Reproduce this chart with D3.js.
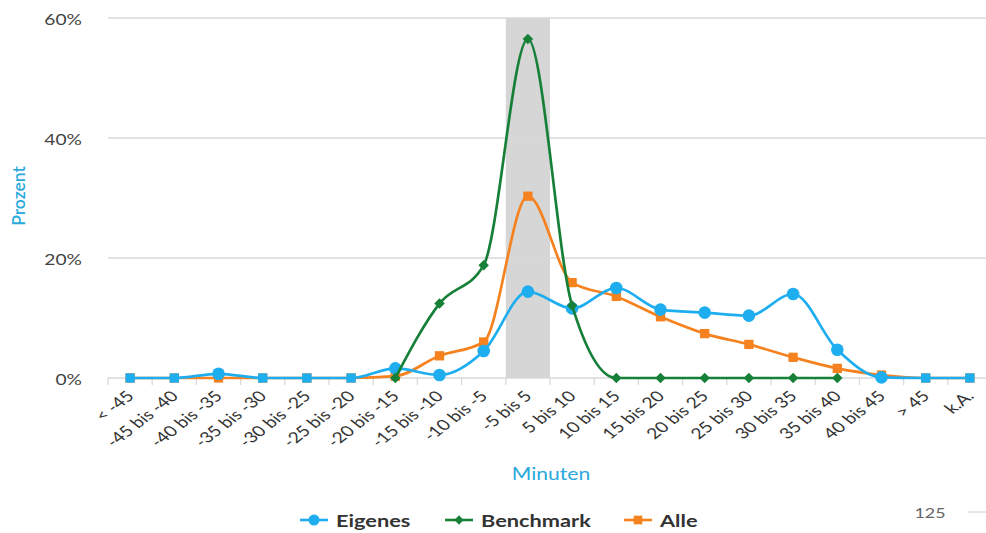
<!DOCTYPE html>
<html>
<head>
<meta charset="utf-8">
<script src="https://cdn.jsdelivr.net/npm/d3@7"></script>
<style>
  html, body { margin: 0; padding: 0; background: #fff; }
  svg { display: block; font-family: Lato, "Open Sans", sans-serif; }
</style>
</head>
<body>
<svg id="chart" width="986" height="533"></svg>
<script>
// Abweichung in Minuten (Kategorien der x-Achse)
const categories = ["< -45", "-45 bis -40", "-40 bis -35", "-35 bis -30", "-30 bis -25",
  "-25 bis -20", "-20 bis -15", "-15 bis -10", "-10 bis -5", "-5 bis 5", "5 bis 10",
  "10 bis 15", "15 bis 20", "20 bis 25", "25 bis 30", "30 bis 35", "35 bis 40",
  "40 bis 45", "> 45", "k.A."];

// Anteile in Prozent
const eigenes   = [0, 0, 0.7, 0, 0, 0, 1.6, 0.5, 4.5, 14.4, 11.6, 15.0, 11.4, 10.9, 10.4, 14.0, 4.7, 0.1, 0, 0];
const benchmark = [null, null, null, null, null, null, 0, 12.4, 18.8, 56.5, 12.1, 0, 0, 0, 0, 0, 0, null, null, null];
const alle      = [0, 0, 0, 0, 0, 0, 0.3, 3.7, 6.0, 30.3, 15.9, 13.6, 10.2, 7.4, 5.6, 3.45, 1.6, 0.5, 0, 0];

const yTicks = [0, 20, 40, 60];
const highlightCategory = "-5 bis 5";
const pageNumber = "125";

// Schrift wird in der Breite gestreckt dargestellt
const SX = 1.28;

const svg = d3.select("#chart");
const x = d3.scaleBand().domain(categories).range([108, 992]);
const y = d3.scaleLinear().domain([0, 60]).range([378, 18]);
const cx = c => x(c) + x.bandwidth() / 2;

const COL_BLUE = "#1eaef0";
const COL_GREEN = "#178038";
const COL_ORANGE = "#f5821f";
const COL_TITLE = "#2aa9dc";

function label(g, px, py, txt, opts) {
  const o = Object.assign({ size: 15, fill: "#444", anchor: "start", weight: "normal", rotate: 0 }, opts);
  return g.append("text")
    .attr("transform", `translate(${px},${py}) scale(${SX},1)` + (o.rotate ? ` rotate(${o.rotate})` : ""))
    .attr("text-anchor", o.anchor)
    .attr("font-size", o.size).attr("font-weight", o.weight).attr("fill", o.fill)
    .text(txt);
}

// hervorgehobener Bereich
svg.append("rect")
  .attr("x", x(highlightCategory)).attr("y", y(60))
  .attr("width", x.bandwidth()).attr("height", y(0) - y(60))
  .attr("fill", "#d6d6d6");

// Gitterlinien und y-Achse
svg.append("g").selectAll("line").data(yTicks).join("line")
  .attr("x1", 108).attr("x2", 992)
  .attr("y1", d => y(d)).attr("y2", d => y(d))
  .attr("stroke", "#d9d9d9").attr("stroke-width", 1.3);
const gyl = svg.append("g");
yTicks.forEach(t => label(gyl, 82, y(t) + 6.8, t + "%", { anchor: "end", size: 15 }));

// x-Achse mit Teilstrichen an den Kategoriegrenzen
const bounds = categories.map(c => x(c)).concat([x.range()[1]]);
svg.append("g").selectAll("line").data(bounds).join("line")
  .attr("x1", d => d).attr("x2", d => d)
  .attr("y1", y(0)).attr("y2", y(0) + 7)
  .attr("stroke", "#d9d9d9").attr("stroke-width", 1.3);

const gxl = svg.append("g");
categories.forEach(c => label(gxl, cx(c) + 5, y(0) + 19, c, { anchor: "end", size: 15, fill: "#333", rotate: -45 }));

// Achsentitel
label(svg, 551, 480, "Minuten", { anchor: "middle", size: 16.5, fill: COL_TITLE });
svg.append("text").attr("transform", "translate(25,196) rotate(-90)")
  .attr("text-anchor", "middle").attr("font-size", 17.5).attr("font-weight", 600)
  .attr("fill", COL_TITLE).text("Prozent");

// Linien (geglättet, ohne Überschwingen unter 0 %)
const line = d3.line()
  .defined(d => d.v !== null)
  .x(d => cx(d.c)).y(d => y(d.v))
  .curve(d3.curveMonotoneX);
const pts = vals => categories.map((c, i) => ({ c, v: vals[i] }));

const diamond = d3.symbol().type(d3.symbolDiamond2).size(70);
const square = d3.symbol().type(d3.symbolSquare2).size(110);

function drawSeries(vals, color, markerFn) {
  const g = svg.append("g");
  g.append("path").datum(pts(vals)).attr("d", line)
    .attr("fill", "none").attr("stroke", color).attr("stroke-width", 2.7);
  const m = g.selectAll("g").data(pts(vals).filter(d => d.v !== null)).join("g")
    .attr("transform", d => `translate(${cx(d.c)},${y(d.v)})`);
  markerFn(m, color);
}

drawSeries(alle, COL_ORANGE, (m, col) => m.append("path").attr("d", square()).attr("fill", col));
drawSeries(eigenes, COL_BLUE, (m, col) => m.each(function (d) {
  const s = d3.select(this);
  if (d.v === 0) s.append("path").attr("d", square()).attr("fill", col);
  else s.append("circle").attr("r", 6.3).attr("fill", col);
}));
drawSeries(benchmark, COL_GREEN, (m, col) => m.append("path").attr("d", diamond()).attr("fill", col));

// Legende
const legend = [
  { name: "Eigenes", color: COL_BLUE, x: 300, marker: "circle" },
  { name: "Benchmark", color: COL_GREEN, x: 445, marker: "diamond" },
  { name: "Alle", color: COL_ORANGE, x: 624, marker: "square" }
];
const lg = svg.append("g").selectAll("g").data(legend).join("g")
  .attr("transform", d => `translate(${d.x},520)`);
lg.append("line").attr("x1", 0).attr("x2", 28).attr("stroke", d => d.color).attr("stroke-width", 2.6);
lg.each(function (d) {
  const g = d3.select(this);
  if (d.marker === "circle") g.append("circle").attr("cx", 14).attr("r", 5.5).attr("fill", d.color);
  else if (d.marker === "diamond") g.append("path").attr("transform", "translate(14,0)").attr("d", d3.symbol().type(d3.symbolDiamond2).size(55)()).attr("fill", d.color);
  else g.append("path").attr("transform", "translate(14,0)").attr("d", d3.symbol().type(d3.symbolSquare2).size(95)()).attr("fill", d.color);
  label(g, 36, 6.5, d.name, { size: 17, weight: "bold", fill: "#333" });
});

// Seitenzahl
label(svg, 930, 518, pageNumber, { anchor: "middle", size: 14, fill: "#666" });
svg.append("line").attr("x1", 968).attr("x2", 986).attr("y1", 512).attr("y2", 512)
  .attr("stroke", "#ccc").attr("stroke-width", 1);
</script>
</body>
</html>
